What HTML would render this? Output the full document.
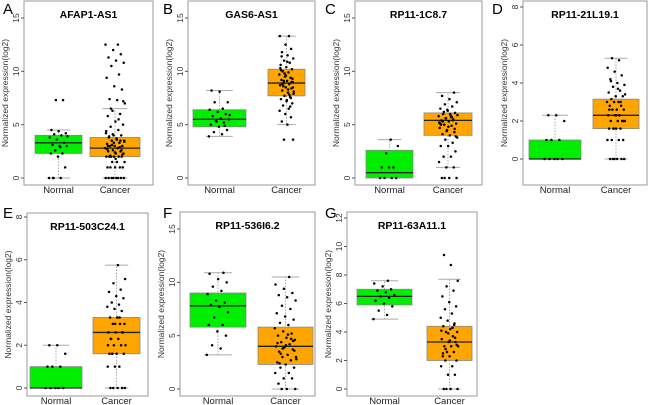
<!DOCTYPE html>
<html><head><meta charset="utf-8"><style>
body{margin:0;background:#fff}
svg{display:block;font-family:"Liberation Sans",sans-serif}
</style></head><body>
<svg id="c" width="650" height="405" xmlns="http://www.w3.org/2000/svg"></svg>
<script>
// data: [min,q1,median,q3,max] and point values per group
const titles=["AFAP1-AS1","GAS6-AS1","RP11-1C8.7","RP11-21L19.1","RP11-503C24.1","RP11-536I6.2","RP11-63A11.1"];
const letters=["A","B","C","D","E","F","G"];
const groups=["Normal","Cancer"];
const tickA=[0,5,10,15],tickD=[0,2,4,6,8],tickG=[0,2,4,6,8,10,12];
const statsN=[[0,2.3,3.3,4.0,4.5],[3.9,4.8,5.5,6.4,8.2],[0,0,0.5,2.6,3.6],[0,0,0,1.0,2.3],[0,0,0,1.0,2.0],[3.2,5.8,7.8,9.0,10.9],[4.9,5.9,6.5,7.0,7.6]];
const statsC=[[0,2.0,2.8,3.8,6.5],[5.0,7.7,8.9,10.2,13.3],[1.0,4.0,5.4,6.1,8.0],[0,1.6,2.3,3.15,5.3],[0,1.6,2.6,3.3,5.75],[0,2.3,4.0,5.8,10.5],[0,2.0,3.3,4.4,7.7]];
const ptsA_N=[0,0,0,1,2,2.3,2.3,2.6,3,3,3.1,3.3,3.6,3.8,4,4.1,4.2,4.4,4.5,7.3,7.3,3.9,2.9,0];
const ptsA_C=[0,0,0,0,0,0,0,0,1,1,1,1,1,1.5,1.5,1.5,2,2,2,2,2,2,2.3,2.3,2.5,2.5,2.6,2.8,2.8,3,3,3,3.2,3.3,3.5,3.5,3.7,3.8,4,4,4.2,4.5,4.8,5,5.3,5.8,6,6.3,7,7.3,7.4,8.3,8.6,9.4,9.7,10.5,10.8,11,11.3,11.6,12,12.5,12.5,2.1,2.2,2.4,2.7,2.9,3.1,3.4,3.6,3.9,2.6,3.3,4.4,5.5,6.5,7.2,1.8,3.0,3.5,4.1];
const ptsB_N=[3.9,4.1,4.3,4.5,4.8,5,5.2,5.4,5.5,5.6,5.8,6,6.2,6.4,6.5,7.1,7.1,8.1,8.2,4.9,5.3,5.9];
const ptsB_C=[3.6,3.6,5,5.3,5.7,6,6.3,6.5,6.8,7,7.2,7.4,7.6,7.7,7.9,8,8.2,8.4,8.5,8.7,8.8,8.9,9,9.1,9.2,9.4,9.5,9.7,9.9,10,10.2,10.4,10.6,10.8,11,11.2,11.5,11.8,12.1,12.5,13.3,13.3,8.6,9.3,7.3,10.1,6.7,9.8,8.1,8.3,8.8,9.0,9.6,10.3,7.8,9.1,8.5,10.9,11.4,7.5];
const ptsC_N=[0,0,0,0,1,1,1,2.3,3,3.6];
const ptsC_C=[0,0,0,0,1,1,1.5,2,2,2.5,3,3,3.3,3.6,3.8,4,4.1,4.3,4.5,4.7,4.9,5,5.1,5.3,5.4,5.5,5.6,5.8,5.9,6,6.1,6.3,6.5,6.7,6.9,7.1,7.4,7.7,8,4.4,5.2,5.7,6.2,3.9,4.8,5.0,5.4,5.6,5.9,6.0,5.3,4.6,6.4,5.1,5.7];
const ptsD_N=[0,0,0,0,0,1,1,1,2,2.3,2.3];
const ptsD_C=[0,0,0,0,0,0,1,1,1,1,1.6,1.6,1.6,1.6,2,2,2,2,2.3,2.3,2.3,2.6,2.6,2.6,2.8,2.8,3,3,3,3.15,3.3,3.3,3.5,3.6,3.8,3.9,4,4.2,4.4,4.6,4.8,5.2,5.3,2,2.3,2.6,3,1.6,3.4,3.7,4.1];
const ptsE_N=[0,0,0,0,0,1,1,1,1.6,2,2];
const ptsE_C=[0,0,0,0,0,1,1,1,1.6,1.6,1.6,1.6,2,2,2,2.3,2.3,2.6,2.6,2.6,3,3,3,3.3,3.3,3.6,3.7,3.8,3.9,4,4.2,4.3,4.5,4.6,4.9,5.1,5.75,2.3,2.6,3,2,3.3,1.6];
const ptsF_N=[3.2,3.8,4.1,5,5.4,6,6,6.7,7.2,7.7,7.9,8.1,8.3,8.9,9.2,9.6,10,10.3,10.8,10.9];
const ptsF_C=[0,0,0,0.5,1,1,1.5,1.5,2,2,2.3,2.5,2.7,3,3,3.2,3.5,3.7,3.9,4,4.2,4.4,4.6,4.8,5,5.2,5.4,5.7,6,6.2,6.5,6.8,7.1,7.5,7.8,8.3,8.6,8.8,9,9.4,9.8,10.5,3.3,3.6,4.1,4.3,4.7,3.8,2.8,5.1,2.4,4.5];
const ptsG_N=[4.9,5.2,5.5,5.8,6,6.2,6.4,6.5,6.6,6.8,6.9,7,7.2,7.4,7.6];
const ptsG_C=[0,0,0,0,1,1,1.6,1.6,2,2,2.3,2.3,2.6,2.6,3,3,3,3.3,3.3,3.5,3.7,4,4,4.2,4.4,4.6,4.8,5,5.3,5.6,5.8,6.1,6.5,6.9,7.2,7.6,8.7,9.4,3.6,3.9,4.1,4.3,2.8,3.1,3.4,2.5,4.5];
const ptsN=[ptsA_N,ptsB_N,ptsC_N,ptsD_N,ptsE_N,ptsF_N,ptsG_N];
const ptsC=[ptsA_C,ptsB_C,ptsC_C,ptsD_C,ptsE_C,ptsF_C,ptsG_C];
const ticks=[tickA,tickA,tickA,tickD,tickD,tickA,tickG];

// layout (pixels)
const L=[
 {fl:24,fr:153,ft:1,fb:185,y0:178,ymax:15,ypx:18,lx:3,ly:14,bn:[35,82],bc:[90,140]},
 {fl:188,fr:315,ft:1,fb:185,y0:178,ymax:15,ypx:18,lx:163,ly:14,bn:[193,246],bc:[268,305]},
 {fl:355,fr:482,ft:1,fb:185,y0:178,ymax:15,ypx:18,lx:325,ly:14,bn:[366,413],bc:[424,472]},
 {fl:523,fr:647,ft:1,fb:185,y0:159,ymax:8,ypx:7,lx:492,ly:14,bn:[529,581],bc:[593,639]},
 {fl:27,fr:148,ft:213,fb:396,y0:388,ymax:8,ypx:217,lx:3,ly:218,bn:[30,82],bc:[93,140]},
 {fl:180,fr:315,ft:212,fb:396,y0:389,ymax:15,ypx:229,lx:163,ly:218,bn:[190,246],bc:[258,313]},
 {fl:347,fr:477,ft:212,fb:396,y0:389,ymax:12,ypx:218,lx:325,ly:218,bn:[357,412],bc:[427,472]}
];
const svg=document.getElementById('c');
const NS='http://www.w3.org/2000/svg';
function mk(t,a,txt){const e=document.createElementNS(NS,t);for(const k in a)e.setAttribute(k,a[k]);if(txt!==undefined)e.textContent=txt;svg.appendChild(e);return e;}
function jit(i){return ((i*0.618034)%1)-0.5;}
L.forEach((p,k)=>{
  const y=v=>p.y0-(v/p.ymax)*(p.y0-p.ypx);
  let e=mk('rect',{x:p.fl,y:p.ft,width:p.fr-p.fl,height:p.fb-p.ft,fill:'none',stroke:'#999','stroke-width':1});
  
  
  e=mk('text',{x:p.lx,y:p.ly,'font-size':15},letters[k]);
  
  
  e=mk('text',{x:(p.fl+p.fr)/2,y:p.ft+17,'font-size':10.5,'font-weight':'bold','text-anchor':'middle'},titles[k]);
  
  
  const ym=(p.ft+p.fb)/2, tx=p.fl-16;
  e=mk('text',{x:tx,y:ym,'font-size':8.5,fill:'#333','text-anchor':'middle',transform:`rotate(-90 ${tx} ${ym})`},'Normalized expression(log2)');
  
  
  ticks[k].forEach(t=>{
    const yy=y(t);
    let l=mk('line',{x1:p.fl-3,x2:p.fl,y1:yy,y2:yy,stroke:'#555'});
    
    
    const lx=p.fl-5;
    l=mk('text',{x:lx,y:yy,'font-size':8.5,fill:'#333','text-anchor':'middle',transform:`rotate(-90 ${lx} ${yy})`},String(t));
    
    
  });
  [[p.bn,statsN[k],ptsN[k],'#00ee00'],[p.bc,statsC[k],ptsC[k],'#ffa500']].forEach((g,gi)=>{
    const [x1,x2]=g[0],s=g[1],cx=(x1+x2)/2,w=x2-x1;
    let l=mk('line',{x1:cx,x2:cx,y1:y(s[0]),y2:y(s[4]),stroke:'#aaa','stroke-dasharray':'1.5,1.5'});
    
    
    [s[0],s[4]].forEach(v=>{const c=mk('line',{x1:cx-w/4,x2:cx+w/4,y1:y(v),y2:y(v),stroke:'#aaa'});
      
      });
    l=mk('rect',{x:x1,y:y(s[3]),width:w,height:Math.max(0.5,y(s[1])-y(s[3])),fill:g[3],stroke:'#888','stroke-width':0.8});
    
    
    l=mk('line',{x1:x1,x2:x2,y1:y(s[2]),y2:y(s[2]),stroke:'#222','stroke-width':1.3});
    
    
    g[2].forEach((v,i)=>{const d=mk('circle',{cx:cx+jit(i+gi*7)*w*0.4,cy:y(v),r:1.25,fill:'#000'});
      
      });
    l=mk('text',{x:cx,y:p.fb+8,'font-size':9.5,fill:'#222','text-anchor':'middle'},groups[gi]);
    
    
  });
});
</script>
</body></html>
